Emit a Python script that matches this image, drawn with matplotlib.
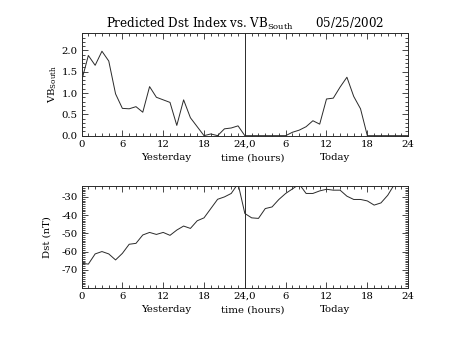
import matplotlib
matplotlib.use('Agg')
import matplotlib.pyplot as plt
from matplotlib.ticker import MultipleLocator

plt.rcParams['font.family'] = 'DejaVu Serif'
plt.rcParams['mathtext.fontset'] = 'dejavuserif'
plt.rcParams['axes.unicode_minus'] = False

# hours since start of yesterday (0..48)
hours = list(range(49))

# VB south, hourly
vb_south = [1.28, 1.88, 1.65, 1.98, 1.75, 0.98, 0.64, 0.63, 0.68, 0.55,
            1.15, 0.90, 0.84, 0.78, 0.24, 0.84, 0.42, 0.21, 0.0, 0.04,
            0.0, 0.16, 0.18, 0.23, 0.0, 0.0, 0.0, 0.0, 0.0, 0.0,
            0.0, 0.08, 0.13, 0.21, 0.35, 0.27, 0.86, 0.88, 1.14, 1.37,
            0.92, 0.63, 0.0, 0.0, 0.0, 0.0, 0.0, 0.0, 0.0]

# Dst, hourly (goes off the top near the end)
dst_hours = list(range(47))
dst = [-66.4, -66.9, -61.3, -60.0, -61.3, -64.6, -61.0, -56.0, -55.5, -50.9,
       -49.5, -50.6, -49.5, -51.1, -48.2, -46.0, -47.3, -43.1, -41.5, -36.4,
       -31.3, -30.0, -28.1, -22.7, -39.1, -41.5, -41.8, -36.4, -35.5, -31.4,
       -28.1, -25.6, -23.0, -28.1, -28.1, -26.7, -25.8, -26.3, -26.3, -29.6,
       -31.4, -31.4, -32.2, -34.5, -33.3, -29.1, -23.0]

xticks = [0, 6, 12, 18, 24, 30, 36, 42, 48]
xticklabels = ['0', '6', '12', '18', '24,0', '6', '12', '18', '24']

fig = plt.figure(figsize=(4.53, 3.40), dpi=100)
ax1 = fig.add_axes([0.180, 0.601, 0.721, 0.301])
ax2 = fig.add_axes([0.180, 0.153, 0.721, 0.300])

lc = '#2a2a2a'
fs = 7.3

for ax in (ax1, ax2):
    ax.set_xlim(0, 48)
    ax.set_xticks(xticks)
    ax.set_xticklabels(xticklabels)
    ax.xaxis.set_minor_locator(MultipleLocator(1))
    ax.tick_params(which='both', direction='in', top=True, right=True,
                   labelsize=fs, color=lc, width=0.6, pad=3)
    ax.tick_params(which='major', length=4.5)
    ax.tick_params(which='minor', length=2.2)
    for s in ax.spines.values():
        s.set_linewidth(0.7)
        s.set_color(lc)
    ax.axvline(24, color=lc, linewidth=0.7)
    ax.text(12.4, -0.215, 'Yesterday', transform=ax.get_xaxis_transform(),
            ha='center', va='center', fontsize=fs)
    ax.text(25.2, -0.215, 'time (hours)', transform=ax.get_xaxis_transform(),
            ha='center', va='center', fontsize=fs)
    ax.text(37.2, -0.215, 'Today', transform=ax.get_xaxis_transform(),
            ha='center', va='center', fontsize=fs)

# top panel
ax1.plot(hours, vb_south, color=lc, linewidth=0.7)
ax1.set_ylim(0, 2.4)
ax1.set_yticks([0, 0.5, 1.0, 1.5, 2.0])
ax1.set_yticklabels(['0.0', '0.5', '1.0', '1.5', '2.0'])
ax1.yaxis.set_minor_locator(MultipleLocator(0.1))
ax1.text(-0.088, 0.5, r'VB$_{\rm South}$', transform=ax1.transAxes,
         rotation=90, ha='center', va='center', fontsize=fs)
ax1.set_title(r'Predicted Dst Index vs. VB$_{\rm South}$      05/25/2002',
              fontsize=8.6, pad=4)

# bottom panel
ax2.plot(dst_hours, dst, color=lc, linewidth=0.7)
ax2.set_ylim(-80, -24)
ax2.set_yticks([-70, -60, -50, -40, -30])
ax2.yaxis.set_minor_locator(MultipleLocator(1))
ax2.text(-0.106, 0.5, 'Dst (nT)', transform=ax2.transAxes,
         rotation=90, ha='center', va='center', fontsize=fs)

fig.savefig('out.png', dpi=100)
